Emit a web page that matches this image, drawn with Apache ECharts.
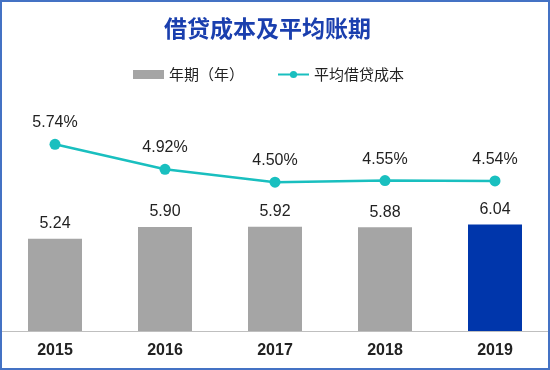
<!DOCTYPE html>
<html><head><meta charset="utf-8">
<script src="https://cdn.jsdelivr.net/npm/echarts@6/dist/echarts.min.js"></script>
<style>html,body{margin:0;padding:0;background:#fff}#c{width:550px;height:370px}</style>
</head><body><div id="c"></div>
<script>
const categories = ['2015','2016','2017','2018','2019'];
const termYears = [5.24, 5.90, 5.92, 5.88, 6.04];
const avgCost = [5.74, 4.92, 4.50, 4.55, 4.54];
const seriesNames = ['年期（年）', '平均借贷成本'];
const titleText = '借贷成本及平均账期';

const chart = echarts.init(document.getElementById('c'));
const font = 'Arial, "Liberation Sans", "Noto Sans CJK SC", sans-serif';
chart.setOption({
  animation: false,
  title: {
    text: titleText, left: 159, top: 12,
    textStyle: {fontSize: 23, fontWeight: 'bold', color: '#1a3fae', fontFamily: '"Noto Sans CJK SC", sans-serif'}
  },
  legend: {
    top: 62, left: 128, itemGap: 33, itemWidth: 31, itemHeight: 9,
    textStyle: {fontSize: 15, color: '#222', fontFamily: '"Noto Sans CJK SC", sans-serif'},
    data: [
      {name: seriesNames[0], icon: 'rect'},
      {name: seriesNames[1]}
    ]
  },
  grid: {left: 0, right: 0, top: 101, bottom: 39},
  xAxis: {
    type: 'category', data: categories,
    axisLine: {lineStyle: {color: '#bfbfbf', width: 1}},
    axisTick: {show: false},
    axisLabel: {fontSize: 16, fontWeight: 'bold', color: '#222', margin: 12, fontFamily: font}
  },
  yAxis: [
    {type: 'value', min: 0, max: 13.05, show: false, splitLine: {show: false}},
    {type: 'value', min: -0.38, max: 7.16, show: false, splitLine: {show: false}}
  ],
  series: [
    {
      name: seriesNames[0], type: 'bar', barWidth: 54, yAxisIndex: 0,
      data: termYears.map((v, i) => ({value: v, itemStyle: {color: i === termYears.length - 1 ? '#0036ab' : '#a5a5a5'}})),
      itemStyle: {color: '#a5a5a5'},
      label: {show: true, position: 'top', distance: 7, fontSize: 16, color: '#222', fontFamily: font,
        formatter: p => p.value.toFixed(2)}
    },
    {
      name: seriesNames[1], type: 'line', yAxisIndex: 1, data: avgCost,
      symbol: 'circle', symbolSize: 11,
      lineStyle: {color: '#19bfbf', width: 2.5},
      itemStyle: {color: '#19bfbf'},
      label: {show: true, position: 'top', distance: 8, fontSize: 16, color: '#222', fontFamily: font,
        formatter: p => p.value.toFixed(2) + '%'}
    }
  ],
  graphic: [{
    type: 'rect', silent: true, z: 100,
    shape: {x: 1, y: 1, width: 548, height: 368},
    style: {fill: 'none', stroke: '#4472c4', lineWidth: 2}
  }]
});
</script></body></html>
